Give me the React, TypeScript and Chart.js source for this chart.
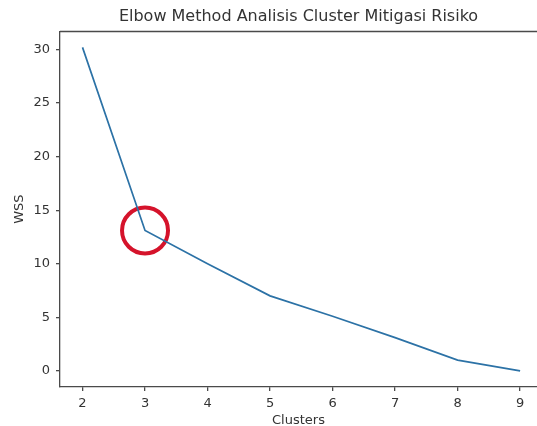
import React, { useEffect, useRef } from "react";
import { Chart, registerables } from "chart.js";

Chart.register(...registerables);

const clusters = [2, 3, 4, 5, 6, 7, 8, 9];
const wss = [30.2, 13.1, 10.0, 7.0, 5.1, 3.1, 1.0, 0.0];
const elbowX = [3];
const elbowY = [13.1];
const xTicks = [2, 3, 4, 5, 6, 7, 8, 9];
const yTicks = [0, 5, 10, 15, 20, 25, 30];

const FONT = "'DejaVu Sans', sans-serif";
const TEXT = "#333333";
const SPINE = "#4a4a4a";

const frame = {
  id: "frame",
  afterDatasetsDraw(chart: any) {
    const { ctx, chartArea } = chart;
    ctx.save();
    ctx.strokeStyle = SPINE;
    ctx.lineWidth = 1.3;
    ctx.beginPath();
    const y = Math.round(chartArea.top) + 0.5;
    ctx.moveTo(chartArea.left, y);
    ctx.lineTo(chart.width, y);
    ctx.stroke();
    ctx.restore();
  },
};

export default function App() {
  const ref = useRef<HTMLCanvasElement | null>(null);
  useEffect(() => {
    if (!ref.current) return;
    const chart = new Chart(ref.current, {
      type: "line",
      data: {
        datasets: [
          {
            data: clusters.map((c, i) => ({ x: c, y: wss[i] })),
            borderColor: "#2c72a6",
            borderWidth: 1.7,
            pointRadius: 0,
            tension: 0,
            fill: false,
          },
          {
            data: elbowX.map((c, i) => ({ x: c, y: elbowY[i] })),
            showLine: false,
            pointRadius: 23,
            pointStyle: "circle",
            pointBorderColor: "#d5132b",
            pointBackgroundColor: "rgba(0,0,0,0)",
            pointBorderWidth: 4,
          },
        ],
      },
      options: {
        animation: false,
        responsive: false,
        events: [],
        layout: { autoPadding: false, padding: { right: 0, left: 0, top: 0, bottom: 0 } },
        plugins: {
          legend: { display: false },
          tooltip: { enabled: false },
          title: {
            display: true,
            text: "Elbow Method Analisis Cluster Mitigasi Risiko",
            fullSize: false,
            color: TEXT,
            font: { family: FONT, size: 16, weight: "normal", lineHeight: 1.2 },
            padding: { top: 7, bottom: 5 },
          },
        },
        scales: {
          x: {
            type: "linear",
            min: 1.64,
            max: 9.27,
            afterBuildTicks: (s: any) => {
              s.ticks = xTicks.map((v) => ({ value: v }));
            },
            afterFit: (s: any) => {
              s.height = 39;
              s.paddingLeft = 0;
              s.paddingRight = 0;
            },
            grid: { drawOnChartArea: false, drawTicks: true, tickLength: 4, color: SPINE, lineWidth: 1.3 },
            border: { display: true, color: SPINE, width: 1.3 },
            ticks: { color: TEXT, font: { family: FONT, size: 13 }, padding: 5, maxRotation: 0 },
            title: {
              display: true,
              text: "Clusters",
              color: TEXT,
              font: { family: FONT, size: 13, lineHeight: 0.9 },
              padding: { top: 0, bottom: 0 },
            },
          },
          y: {
            type: "linear",
            min: -1.51,
            max: 31.71,
            afterBuildTicks: (s: any) => {
              s.ticks = yTicks.map((v) => ({ value: v }));
            },
            afterFit: (s: any) => {
              s.width = 60;
              s.paddingTop = 0;
              s.paddingBottom = 0;
            },
            grid: { drawOnChartArea: false, drawTicks: true, tickLength: 4, color: SPINE, lineWidth: 1.3 },
            border: { display: true, color: SPINE, width: 1.3 },
            ticks: { color: TEXT, font: { family: FONT, size: 13 }, padding: 6 },
            title: {
              display: true,
              text: "WSS",
              color: TEXT,
              font: { family: FONT, size: 13, lineHeight: 1.2 },
              padding: { top: 12, bottom: 0 },
            },
          },
        },
      },
      plugins: [frame],
    } as any);
    return () => chart.destroy();
  }, []);
  return (
    <div style={{ position: "absolute", left: 0, top: 0, width: 537, height: 426, background: "#fff" }}>
      <canvas ref={ref} width={537} height={426} />
    </div>
  );
}
